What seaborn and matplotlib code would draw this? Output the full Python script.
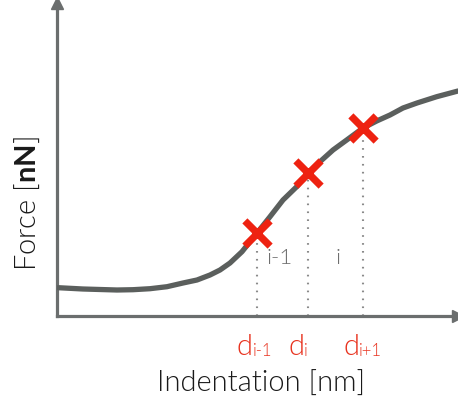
import matplotlib
matplotlib.use("Agg")
import matplotlib.pyplot as plt
import seaborn as sns
import pandas as pd

# --- data (arbitrary units) ---
indentation = [1.3, 26, 60, 76, 93, 110, 126, 140, 153, 163, 173, 185, 200, 213,
               226, 239.7, 251, 263, 276, 289.7, 306, 319.7, 333, 346, 360, 379.7, 401]
force = [28.3, 27, 26, 26.3, 27.3, 29.3, 33, 36, 41, 46, 53, 64.3, 83, 99.3,
         116, 129.3, 143, 154.3, 166, 176, 188, 195, 201, 208, 213, 219.3, 225]
sample_x = [199.7, 251.3, 306.3]
sample_y = [83.3, 143.3, 187.7]
sample_labels = [("d", "i-1"), ("d", "i"), ("d", "i+1")]
interval_labels = ["i-1", "i"]
xlabel = "Indentation [nm]"

sns.set_theme(style="white")
plt.rcParams["font.family"] = ["Lato", "DejaVu Sans"]
plt.rcParams["mathtext.fontset"] = "custom"
plt.rcParams["mathtext.rm"] = "Lato"
plt.rcParams["mathtext.bf"] = "Lato:bold"

W, H = 458, 409
WT = 300
fig = plt.figure(figsize=(W / 100, H / 100), dpi=100)
ax = fig.add_axes([57 / W, (H - 316) / H, (W - 57) / W, (316 - 3) / H])

curve = pd.DataFrame({"x": indentation, "y": force})
sns.lineplot(data=curve, x="x", y="y", sort=False, ax=ax, color="#5b5f5d",
             linewidth=3.8, zorder=3)

pts = pd.DataFrame({"x": sample_x, "y": sample_y})
ax.vlines(sample_x, 0, sample_y, colors="#8a8a8a", linewidth=1.5,
          linestyles=(0, (0.8, 3.0)), zorder=2)
sns.scatterplot(data=pts, x="x", y="y", ax=ax, marker="x", s=330,
                color="#ee2211", linewidth=5.2, zorder=5)

ax.set_xlim(0, 401)
ax.set_ylim(0, 313)
ax.set_xticks([])
ax.set_yticks([])
for s in ["top", "right"]:
    ax.spines[s].set_visible(False)
for s in ["left", "bottom"]:
    ax.spines[s].set_color("#6b6e6e")
    ax.spines[s].set_linewidth(2.3)
ax.plot(0, 1, marker="^", ms=9, color="#6b6e6e", transform=ax.transAxes,
        clip_on=False, zorder=6)
ax.plot(1, 0, marker=">", ms=9, color="#6b6e6e", transform=ax.transAxes,
        clip_on=False, zorder=6)
ax.set_xlabel("")
ax.set_ylabel("")

# interval labels
mids = [(sample_x[0] + sample_x[1]) / 2 - 3, (sample_x[1] + sample_x[2]) / 2 + 2]
for m, t in zip(mids, interval_labels):
    ax.text(m, 52, t, ha="center", va="baseline", fontsize=16, color="#6f6f6f",
            fontweight=WT)

# sample labels under the axis
red = "#e8321e"
for xv, (main, sub) in zip(sample_x, sample_labels):
    xp = 57 + xv
    fig.text((xp - 20) / W, 1 - 355 / H, main, ha="left", va="baseline",
             fontsize=21, color=red, fontweight=WT)
    fig.text((xp - 4) / W, 1 - 356 / H, sub, ha="left", va="baseline",
             fontsize=12, color=red, fontweight=WT)

fig.text(261 / W, 1 - 392 / H, xlabel, ha="center", va="baseline",
         fontsize=21, color="#1a1a1a", fontweight=WT)
fig.text(27 / W, 1 - 204 / H, r"Force [$\mathbf{nN}$]", ha="center", va="center",
         rotation=90, fontsize=21, color="#1a1a1a", fontweight=WT)

fig.savefig("out.png", dpi=100)
